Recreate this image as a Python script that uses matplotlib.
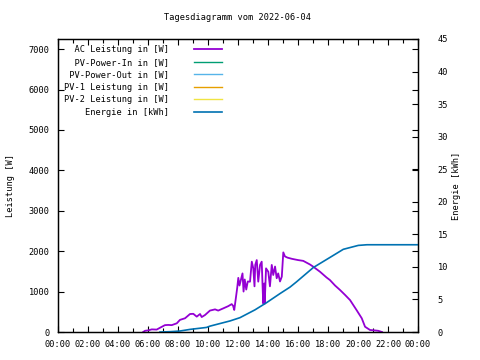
import matplotlib
matplotlib.use("Agg")
import matplotlib.pyplot as plt
from matplotlib.ticker import MultipleLocator, FuncFormatter

# hours of day / AC power in W
ac_time = [5.68, 5.8, 6.02, 6.25, 6.58, 6.8, 7.13, 7.35, 7.58, 7.92, 8.13, 8.47, 8.8, 9.02,
           9.25, 9.47, 9.58, 9.8, 10.13, 10.47, 10.68, 11.02, 11.35, 11.58, 11.67, 11.75,
           11.87, 11.95, 12.02, 12.1, 12.2, 12.3, 12.37, 12.45, 12.55, 12.65, 12.8, 12.92,
           13.02, 13.1, 13.15, 13.25, 13.35, 13.47, 13.58, 13.68, 13.75, 13.78, 13.87, 14.02,
           14.13, 14.25, 14.35, 14.47, 14.58, 14.68, 14.8, 14.92, 15.02, 15.13, 15.3, 15.6,
           16.0, 16.35, 16.8, 17.0, 17.47, 17.9, 18.13, 18.47, 18.8, 19.13, 19.47, 19.9,
           20.25, 20.47, 20.8, 21.1, 21.35, 21.6]
ac_power = [0, 30, 40, 65, 60, 105, 170, 175, 170, 215, 300, 340, 445, 450,
            380, 445, 370, 420, 530, 560, 530, 585, 640, 690, 650, 545,
            875, 1100, 1340, 1150, 1300, 1450, 1000, 1300, 1050, 1250, 1245, 1740,
            1575, 1130, 1660, 1780, 1245, 1660, 1740, 710, 1200, 700, 1575, 1490,
            1130, 1660, 1410, 1620, 1330, 1450, 1250, 1370, 1970, 1870, 1840, 1810,
            1780, 1760, 1670, 1620, 1490, 1350, 1285, 1150, 1040, 920, 790, 545,
            340, 130, 50, 40, 30, 0]

# series without data on this day
pv_in = []
pv_out = []
pv1 = []
pv2 = []

# energy in kWh
en_time = [6.8, 7.5, 8.13, 8.8, 9.9, 10.13, 11.47, 12.13, 13.13, 13.9, 14.8, 15.47,
           15.9, 17.02, 18.13, 19.02, 20.02, 20.6, 24.0]
energy = [0, 0.05, 0.15, 0.4, 0.7, 0.9, 1.7, 2.2, 3.4, 4.5, 5.9, 6.9,
          7.7, 9.9, 11.45, 12.7, 13.3, 13.4, 13.4]

labels = ["AC Leistung in [W]", "PV-Power-In in [W]", "PV-Power-Out in [W]",
          "PV-1 Leistung in [W]", "PV-2 Leistung in [W]", "Energie in [kWh]"]

plt.rcParams['font.family'] = ['DejaVu Sans Mono']
plt.rcParams['font.size'] = 6.2

fig = plt.figure(figsize=(4.8, 3.6), dpi=100)
ax = fig.add_axes([58 / 480, 1 - 332 / 360, 360 / 480, 293 / 360])
ax2 = ax.twinx()

l1, = ax.plot(ac_time, ac_power, color='#9400d3', lw=1.3)
l2, = ax.plot(pv_in, pv_in, color='#009e73', lw=1)
l3, = ax.plot(pv_out, pv_out, color='#56b4e9', lw=1)
l4, = ax.plot(pv1, pv1, color='#e69f00', lw=1)
l5, = ax.plot(pv2, pv2, color='#f0e442', lw=1)
l6, = ax2.plot(en_time, energy, color='#0072b2', lw=1.2)

ax.set_xlim(0, 24)
ax.set_ylim(0, 7250)
ax2.set_ylim(0, 45)
ax.xaxis.set_major_locator(MultipleLocator(2))
ax.xaxis.set_minor_locator(MultipleLocator(1))
ax.xaxis.set_major_formatter(FuncFormatter(lambda v, p: "%02d:00" % (int(v) % 24)))
ax.yaxis.set_major_locator(MultipleLocator(1000))
ax2.yaxis.set_major_locator(MultipleLocator(5))
ax.tick_params(which='both', direction='in', top=True, right=True, length=4, width=0.8, pad=6)
ax.tick_params(which='minor', length=3)
ax2.tick_params(direction='in', length=4, width=0.8, pad=14)
for a in (ax, ax2):
    for s in a.spines.values():
        s.set_linewidth(0.9)

ax.set_ylabel("Leistung [W]", labelpad=10)
ax2.set_ylabel("Energie [kWh]", labelpad=3)
fig.text(238 / 480, 1 - 18 / 360, "Tagesdiagramm vom 2022-06-04", ha='center', va='center')

pad = max(len(s) for s in labels)
ax2.legend([l1, l2, l3, l4, l5, l6], [s.rjust(pad) for s in labels],
           loc='upper left', bbox_to_anchor=(0.0, 1.0), frameon=False, markerfirst=False,
           handlelength=3.25, handletextpad=2.9, labelspacing=0.42, borderaxespad=0.3)

fig.savefig("out.png", dpi=100)
